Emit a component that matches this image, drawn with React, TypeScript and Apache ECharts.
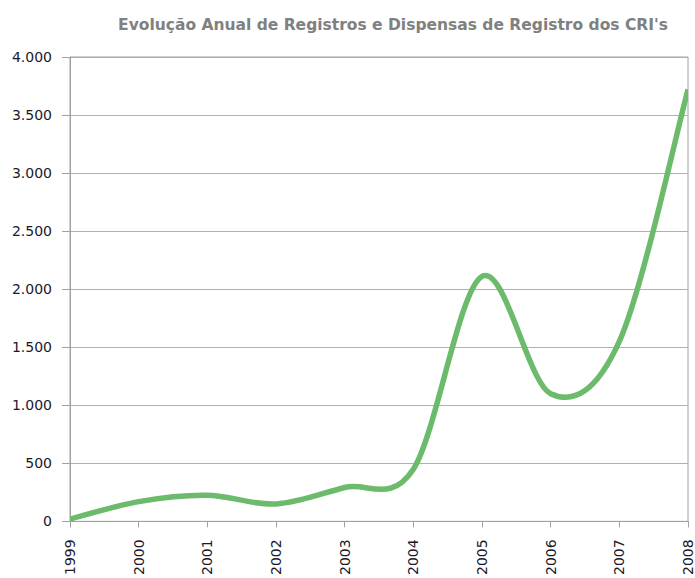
import React, { useEffect, useRef } from "react";
import * as echarts from "echarts";

const years = ["1999", "2000", "2001", "2002", "2003", "2004", "2005", "2006", "2007", "2008"];
const registros = [20, 170, 225, 150, 292, 450, 2110, 1100, 1550, 3720];
const titleText = "Evolução Anual de Registros e Dispensas de Registro dos CRI's";

function fmt(v: number): string {
  return v.toLocaleString("pt-BR");
}

export default function App() {
  const ref = useRef<HTMLDivElement>(null);
  useEffect(() => {
    if (!ref.current) return;
    const chart = echarts.init(ref.current, undefined, { renderer: "svg" });
    chart.setOption({
      animation: false,
      backgroundColor: "#ffffff",
      title: {
        text: titleText,
        left: 388,
        top: 12,
        textAlign: "center",
        textStyle: {
          fontFamily: "DejaVu Sans",
          fontWeight: "bold",
          fontSize: 15.5,
          color: "#808080",
        },
      },
      grid: {
        left: 70,
        right: 7,
        top: 57,
        bottom: 55,
        show: true,
        borderColor: "#a0a0a0",
        borderWidth: 1,
      },
      xAxis: {
        type: "category",
        data: years,
        boundaryGap: false,
        axisLine: { lineStyle: { color: "#a0a0a0", width: 1 } },
        axisTick: { show: true, length: 6, lineStyle: { color: "#a0a0a0" } },
        axisLabel: {
          rotate: 90,
          margin: 18,
          fontFamily: "DejaVu Sans",
          fontSize: 14,
          color: "#1a1a2a",
          showMinLabel: true,
          showMaxLabel: true,
          interval: 0,
        },
        splitLine: { show: false },
      },
      yAxis: {
        type: "value",
        min: 0,
        max: 4000,
        interval: 500,
        axisLine: { show: true, lineStyle: { color: "#a0a0a0", width: 1 } },
        axisTick: { show: true, length: 8, lineStyle: { color: "#a0a0a0" } },
        axisLabel: {
          margin: 18,
          fontFamily: "DejaVu Sans",
          fontSize: 14,
          color: "#1a1a2a",
          formatter: (v: number) => fmt(v),
        },
        splitLine: { show: true, lineStyle: { color: "#b0b0b0", width: 1 } },
      },
      series: [
        {
          type: "custom",
          name: "Registros",
          data: registros.map((v, i) => [i, v]),
          clip: true,
          renderItem: (params: any, api: any) => {
            if (params.dataIndex !== 0) return null;
            const pts = registros.map((v, i) => api.coord([i, v]));
            let d = `M ${pts[0][0]} ${pts[0][1]}`;
            for (let i = 0; i < pts.length - 1; i++) {
              const p0 = pts[Math.max(0, i - 1)];
              const p1 = pts[i];
              const p2 = pts[i + 1];
              const p3 = pts[Math.min(pts.length - 1, i + 2)];
              const c1x = p1[0] + (p2[0] - p0[0]) / 6;
              const c1y = p1[1] + (p2[1] - p0[1]) / 6;
              const c2x = p2[0] - (p3[0] - p1[0]) / 6;
              const c2y = p2[1] - (p3[1] - p1[1]) / 6;
              d += ` C ${c1x} ${c1y} ${c2x} ${c2y} ${p2[0]} ${p2[1]}`;
            }
            return {
              type: "path",
              shape: { pathData: d },
              style: {
                fill: "none",
                stroke: "#6cba6c",
                lineWidth: 5.5,
                lineJoin: "round",
                lineCap: "butt",
              },
            };
          },
        },
      ],
    });
    return () => chart.dispose();
  }, []);
  return <div ref={ref} style={{ width: 695, height: 578, position: "absolute", left: 0, top: 0 }} />;
}
